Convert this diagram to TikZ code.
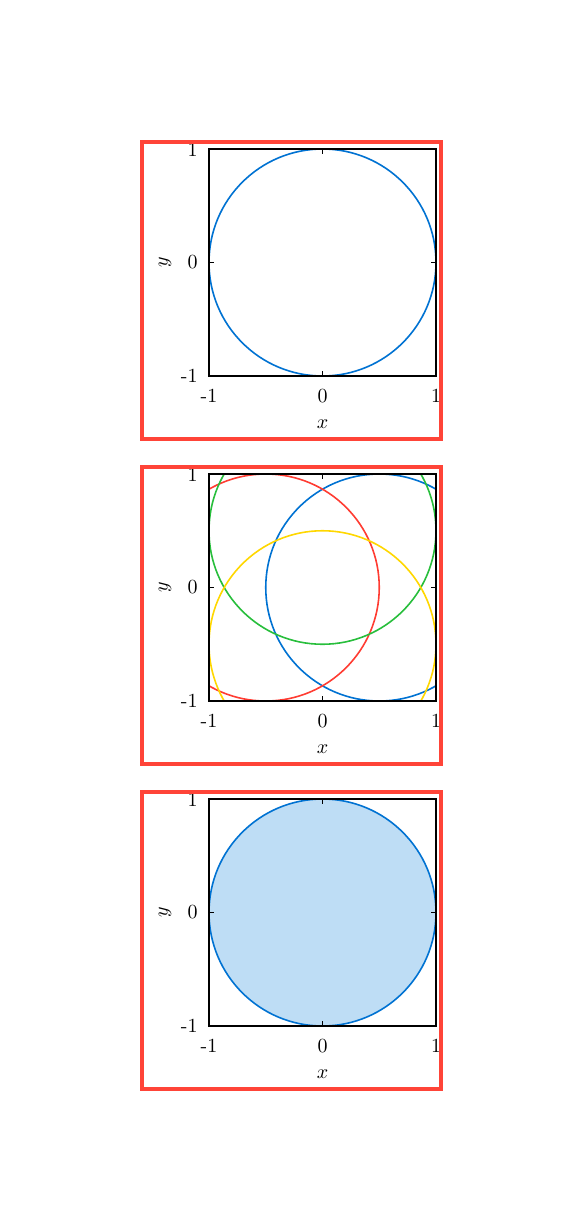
\documentclass[tikz,border=0pt]{standalone}
\begin{document}
\begin{tikzpicture}[x=0.5pt,y=-0.5pt,
  frame/.style={draw={rgb,255:red,255;green,68;blue,56},line width=1.6pt},
  axbox/.style={draw=black,line width=0.8pt},
  tickmark/.style={draw=black,line width=0.9pt},
  curve/.style={line width=0.8pt},
  lbl/.style={inner sep=0pt,font=\normalsize}]
\definecolor{cblue}{RGB}{0,114,210}
\definecolor{cred}{RGB}{255,60,50}
\definecolor{cgreen}{RGB}{40,190,60}
\definecolor{cyellow}{RGB}{255,215,0}
\definecolor{cfill}{RGB}{190,221,245}
\useasboundingbox (0,0) rectangle (583,1231);
\foreach \k/\oy in {1/0,2/325,3/650}{
\begin{scope}[shift={(0,\oy)}]
  \coordinate (C\k) at (322.5,262.5);
  \ifnum\k=3
    \fill[cfill] (C\k) circle[radius=56.75pt];
  \fi
  \ifnum\k=2
    \begin{scope}
      \clip (209,149) rectangle (436,376);
      \draw[curve,cblue] (379.25,262.5) circle[radius=56.75pt];
      \draw[curve,cred] (265.75,262.5) circle[radius=56.75pt];
      \draw[curve,cgreen] (322.5,205.75) circle[radius=56.75pt];
      \draw[curve,cyellow] (322.5,319.25) circle[radius=56.75pt];
    \end{scope}
  \else
    \draw[curve,cblue] (C\k) circle[radius=56.75pt];
  \fi
  \draw[axbox] (209,149) rectangle (436,376);
  \draw[tickmark] (322.5,149) -- (322.5,154);
  \draw[tickmark] (322.5,376) -- (322.5,371);
  \draw[tickmark] (209,262.5) -- (214,262.5);
  \draw[tickmark] (436,262.5) -- (431,262.5);
  \node[lbl,anchor=east] (yt1\k) at (198,150) {1};
  \node[lbl,anchor=east] (yt0\k) at (198,262.5) {0};
  \node[lbl,anchor=east] (ytm\k) at (198,376) {-1};
  \node[lbl,anchor=north] (xtm\k) at (209,389) {-1};
  \node[lbl,anchor=north] (xt0\k) at (322.5,389) {0};
  \node[lbl,anchor=north] (xt1\k) at (436,389) {1};
  \node[lbl] (xl\k) at (322.5,424) {$x$};
  \node[lbl,rotate=90] (yl\k) at (165,262.5) {$y$};
  \draw[frame] (142,142) rectangle (441,439);
\end{scope}
}
\end{tikzpicture}
\end{document}
